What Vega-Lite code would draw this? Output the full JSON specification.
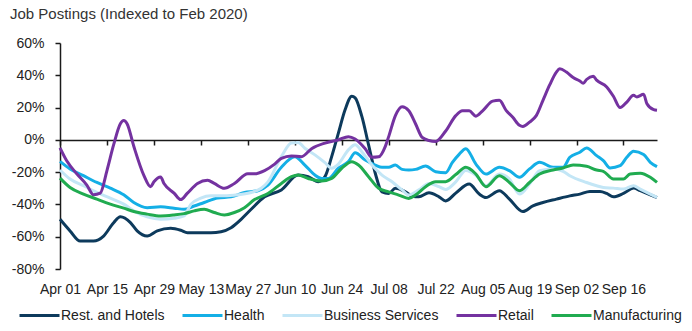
{
 "$schema": "https://vega.github.io/schema/vega-lite/v6.json",
 "width": 597, "height": 226,
 "autosize": "none",
 "padding": {"left": 60, "top": 43, "right": 35, "bottom": 62},
 "title": {"text": "Job Postings (Indexed to Feb 2020)", "anchor": "start", "frame": "group", "dx": -50, "dy": 3, "offset": 5, "baseline": "alphabetic", "fontSize": 15, "fontWeight": "normal", "color": "#333"},
 "config": {"view": {"stroke": null}, "font": "Liberation Sans"},
 "datasets": {
  "rest": [
   {"date":"2020-04-01","value":-49.2},{"date":"2020-04-04","value":-56.4},{"date":"2020-04-07","value":-62.7},{"date":"2020-04-11","value":-62.7},{"date":"2020-04-14","value":-59.6},{"date":"2020-04-17","value":-51.3},{"date":"2020-04-19","value":-47.7},{"date":"2020-04-22","value":-51.3},{"date":"2020-04-24","value":-56.4},{"date":"2020-04-27","value":-59.6},{"date":"2020-04-30","value":-56.4},{"date":"2020-05-04","value":-54.8},{"date":"2020-05-07","value":-56},{"date":"2020-05-09","value":-57.5},{"date":"2020-05-13","value":-57.5},{"date":"2020-05-16","value":-57.5},{"date":"2020-05-19","value":-56.9},{"date":"2020-05-22","value":-54.4},{"date":"2020-05-25","value":-49.2},{"date":"2020-05-28","value":-43},{"date":"2020-06-01","value":-35.3},{"date":"2020-06-06","value":-31},{"date":"2020-06-11","value":-21.8},{"date":"2020-06-14","value":-22.8},{"date":"2020-06-17","value":-25.9},{"date":"2020-06-19","value":-22.8},{"date":"2020-06-21","value":-10.4},{"date":"2020-06-23","value":4.2},{"date":"2020-06-25","value":18.7},{"date":"2020-06-27","value":27},{"date":"2020-06-28","value":26},{"date":"2020-06-30","value":14.5},{"date":"2020-07-02","value":-3.1},{"date":"2020-07-04","value":-20.7},{"date":"2020-07-06","value":-32.2},{"date":"2020-07-08","value":-33.2},{"date":"2020-07-10","value":-30},{"date":"2020-07-13","value":-32.2},{"date":"2020-07-15","value":-34.9},{"date":"2020-07-17","value":-35.3},{"date":"2020-07-20","value":-32.8},{"date":"2020-07-23","value":-35.3},{"date":"2020-07-25","value":-37.8},{"date":"2020-07-28","value":-33},{"date":"2020-08-01","value":-27.4},{"date":"2020-08-04","value":-33.6},{"date":"2020-08-06","value":-35.7},{"date":"2020-08-10","value":-31.5},{"date":"2020-08-13","value":-36.7},{"date":"2020-08-17","value":-44.4},{"date":"2020-08-20","value":-40.9},{"date":"2020-08-23","value":-38.8},{"date":"2020-08-27","value":-36.7},{"date":"2020-08-31","value":-34.7},{"date":"2020-09-03","value":-33.6},{"date":"2020-09-06","value":-32},{"date":"2020-09-09","value":-32},{"date":"2020-09-11","value":-33.2},{"date":"2020-09-13","value":-35.3},{"date":"2020-09-16","value":-33.2},{"date":"2020-09-19","value":-29.9},{"date":"2020-09-21","value":-31.5},{"date":"2020-09-24","value":-34},{"date":"2020-09-26","value":-35.7}
  ],
  "health": [
   {"date":"2020-04-01","value":-13.3},{"date":"2020-04-04","value":-18},{"date":"2020-04-08","value":-22.2},{"date":"2020-04-12","value":-26.4},{"date":"2020-04-16","value":-29.9},{"date":"2020-04-20","value":-34},{"date":"2020-04-23","value":-38.8},{"date":"2020-04-27","value":-42},{"date":"2020-05-01","value":-41.5},{"date":"2020-05-05","value":-42.3},{"date":"2020-05-08","value":-43},{"date":"2020-05-11","value":-41},{"date":"2020-05-14","value":-38.8},{"date":"2020-05-18","value":-36},{"date":"2020-05-22","value":-35.3},{"date":"2020-05-26","value":-32.6},{"date":"2020-05-30","value":-31.5},{"date":"2020-06-02","value":-28},{"date":"2020-06-06","value":-17},{"date":"2020-06-10","value":-10.5},{"date":"2020-06-13","value":-15.6},{"date":"2020-06-16","value":-21.8},{"date":"2020-06-18","value":-23.9},{"date":"2020-06-20","value":-24},{"date":"2020-06-23","value":-17.6},{"date":"2020-06-26","value":-13.5},{"date":"2020-06-28","value":-8},{"date":"2020-07-01","value":-12.5},{"date":"2020-07-04","value":-15.6},{"date":"2020-07-06","value":-17},{"date":"2020-07-08","value":-17},{"date":"2020-07-10","value":-15.6},{"date":"2020-07-12","value":-18.3},{"date":"2020-07-14","value":-18.7},{"date":"2020-07-16","value":-18.3},{"date":"2020-07-19","value":-16.2},{"date":"2020-07-22","value":-19.7},{"date":"2020-07-25","value":-20.3},{"date":"2020-07-27","value":-14},{"date":"2020-07-29","value":-9},{"date":"2020-07-31","value":-5.5},{"date":"2020-08-03","value":-15},{"date":"2020-08-06","value":-21.2},{"date":"2020-08-10","value":-17},{"date":"2020-08-13","value":-19.1},{"date":"2020-08-16","value":-23.2},{"date":"2020-08-19","value":-18},{"date":"2020-08-22","value":-13.9},{"date":"2020-08-26","value":-17},{"date":"2020-08-29","value":-17},{"date":"2020-08-31","value":-10.8},{"date":"2020-09-03","value":-7.7},{"date":"2020-09-05","value":-5},{"date":"2020-09-08","value":-9.8},{"date":"2020-09-10","value":-12.9},{"date":"2020-09-12","value":-17.4},{"date":"2020-09-15","value":-16},{"date":"2020-09-17","value":-10.8},{"date":"2020-09-19","value":-7},{"date":"2020-09-22","value":-9.1},{"date":"2020-09-24","value":-13.9},{"date":"2020-09-26","value":-16.6}
  ],
  "business": [
   {"date":"2020-04-01","value":-18.7},{"date":"2020-04-04","value":-24.3},{"date":"2020-04-08","value":-28.4},{"date":"2020-04-12","value":-32.6},{"date":"2020-04-16","value":-36.1},{"date":"2020-04-20","value":-39.8},{"date":"2020-04-23","value":-44},{"date":"2020-04-27","value":-47.7},{"date":"2020-05-01","value":-49.2},{"date":"2020-05-05","value":-48.6},{"date":"2020-05-08","value":-47.1},{"date":"2020-05-10","value":-40},{"date":"2020-05-13","value":-36.1},{"date":"2020-05-16","value":-34.7},{"date":"2020-05-20","value":-34.7},{"date":"2020-05-24","value":-34},{"date":"2020-05-28","value":-32.6},{"date":"2020-05-31","value":-30},{"date":"2020-06-02","value":-26},{"date":"2020-06-06","value":-10.4},{"date":"2020-06-09","value":-2},{"date":"2020-06-11","value":-1.7},{"date":"2020-06-13","value":-5.2},{"date":"2020-06-16","value":-9.3},{"date":"2020-06-19","value":-14.1},{"date":"2020-06-21","value":-17.6},{"date":"2020-06-23","value":-15},{"date":"2020-06-26","value":-6.2},{"date":"2020-06-28","value":-3.1},{"date":"2020-06-30","value":-7.3},{"date":"2020-07-03","value":-15.6},{"date":"2020-07-06","value":-21.8},{"date":"2020-07-09","value":-26},{"date":"2020-07-12","value":-31},{"date":"2020-07-14","value":-34.2},{"date":"2020-07-17","value":-31},{"date":"2020-07-20","value":-27},{"date":"2020-07-23","value":-29},{"date":"2020-07-25","value":-30.7},{"date":"2020-07-28","value":-26},{"date":"2020-07-31","value":-19},{"date":"2020-08-03","value":-22},{"date":"2020-08-06","value":-28.4},{"date":"2020-08-10","value":-21.2},{"date":"2020-08-13","value":-24.3},{"date":"2020-08-16","value":-33.6},{"date":"2020-08-19","value":-27.4},{"date":"2020-08-22","value":-19.1},{"date":"2020-08-26","value":-18},{"date":"2020-08-29","value":-19.5},{"date":"2020-08-31","value":-22.2},{"date":"2020-09-05","value":-26.4},{"date":"2020-09-08","value":-28.4},{"date":"2020-09-10","value":-29.5},{"date":"2020-09-13","value":-29.9},{"date":"2020-09-16","value":-30.5},{"date":"2020-09-19","value":-28.4},{"date":"2020-09-21","value":-30.5},{"date":"2020-09-24","value":-33.6},{"date":"2020-09-26","value":-35.7}
  ],
  "retail": [
   {"date":"2020-04-01","value":-5},{"date":"2020-04-03","value":-13},{"date":"2020-04-06","value":-21},{"date":"2020-04-09","value":-28},{"date":"2020-04-11","value":-34},{"date":"2020-04-13","value":-33},{"date":"2020-04-15","value":-19},{"date":"2020-04-17","value":-3},{"date":"2020-04-19","value":10},{"date":"2020-04-20","value":12},{"date":"2020-04-21","value":10},{"date":"2020-04-23","value":-4},{"date":"2020-04-26","value":-22},{"date":"2020-04-28","value":-29},{"date":"2020-04-29","value":-26},{"date":"2020-05-01","value":-23},{"date":"2020-05-02","value":-27},{"date":"2020-05-05","value":-33},{"date":"2020-05-07","value":-37},{"date":"2020-05-09","value":-33},{"date":"2020-05-12","value":-27},{"date":"2020-05-15","value":-25},{"date":"2020-05-17","value":-27},{"date":"2020-05-20","value":-30},{"date":"2020-05-23","value":-27},{"date":"2020-05-27","value":-21},{"date":"2020-05-29","value":-21},{"date":"2020-06-01","value":-19},{"date":"2020-06-04","value":-15},{"date":"2020-06-06","value":-11.5},{"date":"2020-06-09","value":-10},{"date":"2020-06-12","value":-10.4},{"date":"2020-06-15","value":-5.5},{"date":"2020-06-19","value":-2},{"date":"2020-06-23","value":0},{"date":"2020-06-26","value":2},{"date":"2020-06-28","value":0.5},{"date":"2020-07-01","value":-5.5},{"date":"2020-07-03","value":-10.8},{"date":"2020-07-05","value":-10.5},{"date":"2020-07-07","value":-4},{"date":"2020-07-08","value":2},{"date":"2020-07-10","value":15},{"date":"2020-07-12","value":20.5},{"date":"2020-07-14","value":18},{"date":"2020-07-16","value":10},{"date":"2020-07-18","value":1.5},{"date":"2020-07-20","value":-0.4},{"date":"2020-07-22","value":-1},{"date":"2020-07-25","value":5.5},{"date":"2020-07-28","value":15},{"date":"2020-07-30","value":18},{"date":"2020-08-01","value":18},{"date":"2020-08-03","value":14.7},{"date":"2020-08-05","value":18},{"date":"2020-08-08","value":24},{"date":"2020-08-10","value":24.5},{"date":"2020-08-12","value":18.3},{"date":"2020-08-14","value":14},{"date":"2020-08-16","value":9},{"date":"2020-08-17","value":8.3},{"date":"2020-08-19","value":11},{"date":"2020-08-21","value":15},{"date":"2020-08-23","value":24.5},{"date":"2020-08-25","value":34},{"date":"2020-08-27","value":42},{"date":"2020-08-28","value":44},{"date":"2020-08-30","value":42},{"date":"2020-09-01","value":38.6},{"date":"2020-09-03","value":36.5},{"date":"2020-09-04","value":35},{"date":"2020-09-05","value":37.4},{"date":"2020-09-07","value":39.4},{"date":"2020-09-08","value":37},{"date":"2020-09-11","value":32.8},{"date":"2020-09-13","value":27},{"date":"2020-09-15","value":20},{"date":"2020-09-17","value":23.4},{"date":"2020-09-19","value":27.6},{"date":"2020-09-20","value":26.6},{"date":"2020-09-22","value":28.2},{"date":"2020-09-23","value":22.4},{"date":"2020-09-25","value":18.7},{"date":"2020-09-26","value":18.3}
  ],
  "manufacturing": [
   {"date":"2020-04-01","value":-23.7},{"date":"2020-04-04","value":-29.5},{"date":"2020-04-08","value":-33.6},{"date":"2020-04-12","value":-36.7},{"date":"2020-04-16","value":-39.8},{"date":"2020-04-20","value":-42.3},{"date":"2020-04-23","value":-44.4},{"date":"2020-04-27","value":-46},{"date":"2020-05-01","value":-47.1},{"date":"2020-05-05","value":-46.5},{"date":"2020-05-08","value":-45.7},{"date":"2020-05-11","value":-44},{"date":"2020-05-14","value":-43},{"date":"2020-05-17","value":-45},{"date":"2020-05-20","value":-46.5},{"date":"2020-05-23","value":-45},{"date":"2020-05-26","value":-42},{"date":"2020-05-29","value":-37},{"date":"2020-06-02","value":-33.2},{"date":"2020-06-06","value":-27},{"date":"2020-06-09","value":-22.8},{"date":"2020-06-11","value":-21.8},{"date":"2020-06-14","value":-23.9},{"date":"2020-06-18","value":-25.5},{"date":"2020-06-21","value":-23.9},{"date":"2020-06-24","value":-17.6},{"date":"2020-06-27","value":-13.5},{"date":"2020-06-29","value":-15.6},{"date":"2020-07-02","value":-22.8},{"date":"2020-07-05","value":-30},{"date":"2020-07-08","value":-32.2},{"date":"2020-07-11","value":-34.2},{"date":"2020-07-14","value":-36.3},{"date":"2020-07-16","value":-34.2},{"date":"2020-07-19","value":-29},{"date":"2020-07-22","value":-25.9},{"date":"2020-07-25","value":-25.9},{"date":"2020-07-28","value":-21.5},{"date":"2020-07-31","value":-17},{"date":"2020-08-03","value":-21.2},{"date":"2020-08-06","value":-29},{"date":"2020-08-10","value":-22.2},{"date":"2020-08-13","value":-26.4},{"date":"2020-08-16","value":-31.5},{"date":"2020-08-19","value":-26.4},{"date":"2020-08-22","value":-21.2},{"date":"2020-08-26","value":-18.7},{"date":"2020-08-29","value":-17.4},{"date":"2020-09-01","value":-15.6},{"date":"2020-09-05","value":-16.4},{"date":"2020-09-08","value":-18.7},{"date":"2020-09-10","value":-19.5},{"date":"2020-09-13","value":-24.3},{"date":"2020-09-16","value":-24.3},{"date":"2020-09-18","value":-21.2},{"date":"2020-09-21","value":-20.7},{"date":"2020-09-24","value":-23.2},{"date":"2020-09-26","value":-26.4}
  ]
 },
 "encoding": {
  "x": {"field": "date", "type": "temporal", "scale": {"type": "utc", "domain": [{"year": 2020, "month": "Apr", "date": 1, "utc": true}, {"year": 2020, "month": "Sep", "date": 26, "utc": true}]},
   "axis": {"title": null, "orient": "bottom", "offset": -129, "grid": false, "domainColor": "#1a1a1a", "domainWidth": 1.5, "tickColor": "#1a1a1a", "tickWidth": 1.5, "tickSize": 5, "labelPadding": 137, "labelFontSize": 14, "labelColor": "#222", "labelExpr": "utcFormat(datum.value, '%b %d')", "labelOverlap": false, "labelFlush": false,
    "values": [{"year": 2020, "month": "Apr", "date": 1, "utc": true}, {"year": 2020, "month": "Apr", "date": 15, "utc": true}, {"year": 2020, "month": "Apr", "date": 29, "utc": true}, {"year": 2020, "month": "May", "date": 13, "utc": true}, {"year": 2020, "month": "May", "date": 27, "utc": true}, {"year": 2020, "month": "Jun", "date": 10, "utc": true}, {"year": 2020, "month": "Jun", "date": 24, "utc": true}, {"year": 2020, "month": "Jul", "date": 8, "utc": true}, {"year": 2020, "month": "Jul", "date": 22, "utc": true}, {"year": 2020, "month": "Aug", "date": 5, "utc": true}, {"year": 2020, "month": "Aug", "date": 19, "utc": true}, {"year": 2020, "month": "Sep", "date": 2, "utc": true}, {"year": 2020, "month": "Sep", "date": 16, "utc": true}]}},
  "y": {"field": "value", "type": "quantitative", "scale": {"domain": [-80, 60], "nice": false},
   "axis": {"title": null, "values": [-80, -60, -40, -20, 0, 20, 40, 60], "labelExpr": "datum.value + '%'", "labelOverlap": false, "grid": false, "domainColor": "#1a1a1a", "domainWidth": 1.5, "tickColor": "#1a1a1a", "tickWidth": 1.5, "tickSize": 5, "labelPadding": 11, "labelFontSize": 14, "labelColor": "#222"}},
  "color": {"field": "series", "type": "nominal",
   "scale": {"domain": ["Rest. and Hotels", "Health", "Business Services", "Retail", "Manufacturing"], "range": ["#0d3a5c", "#14afe6", "#c3e6f6", "#7432a0", "#20ab50"]},
   "legend": {"title": null, "orient": "none", "legendX": -42, "legendY": 251, "direction": "horizontal", "columns": 5, "gridAlign": "none", "symbolType": "stroke", "symbolSize": 1600, "symbolStrokeWidth": 3, "labelFontSize": 14, "labelColor": "#222", "labelOffset": 0, "columnPadding": 11, "padding": 0}}
 },
 "layer": [
  {"data": {"name": "rest"}, "transform": [{"calculate": "'Rest. and Hotels'", "as": "series"}], "mark": {"type": "line", "strokeWidth": 3, "interpolate": "monotone"}},
  {"data": {"name": "health"}, "transform": [{"calculate": "'Health'", "as": "series"}], "mark": {"type": "line", "strokeWidth": 3, "interpolate": "monotone"}},
  {"data": {"name": "business"}, "transform": [{"calculate": "'Business Services'", "as": "series"}], "mark": {"type": "line", "strokeWidth": 3, "interpolate": "monotone"}},
  {"data": {"name": "retail"}, "transform": [{"calculate": "'Retail'", "as": "series"}], "mark": {"type": "line", "strokeWidth": 3, "interpolate": "monotone"}},
  {"data": {"name": "manufacturing"}, "transform": [{"calculate": "'Manufacturing'", "as": "series"}], "mark": {"type": "line", "strokeWidth": 3, "interpolate": "monotone"}}
 ]
}
